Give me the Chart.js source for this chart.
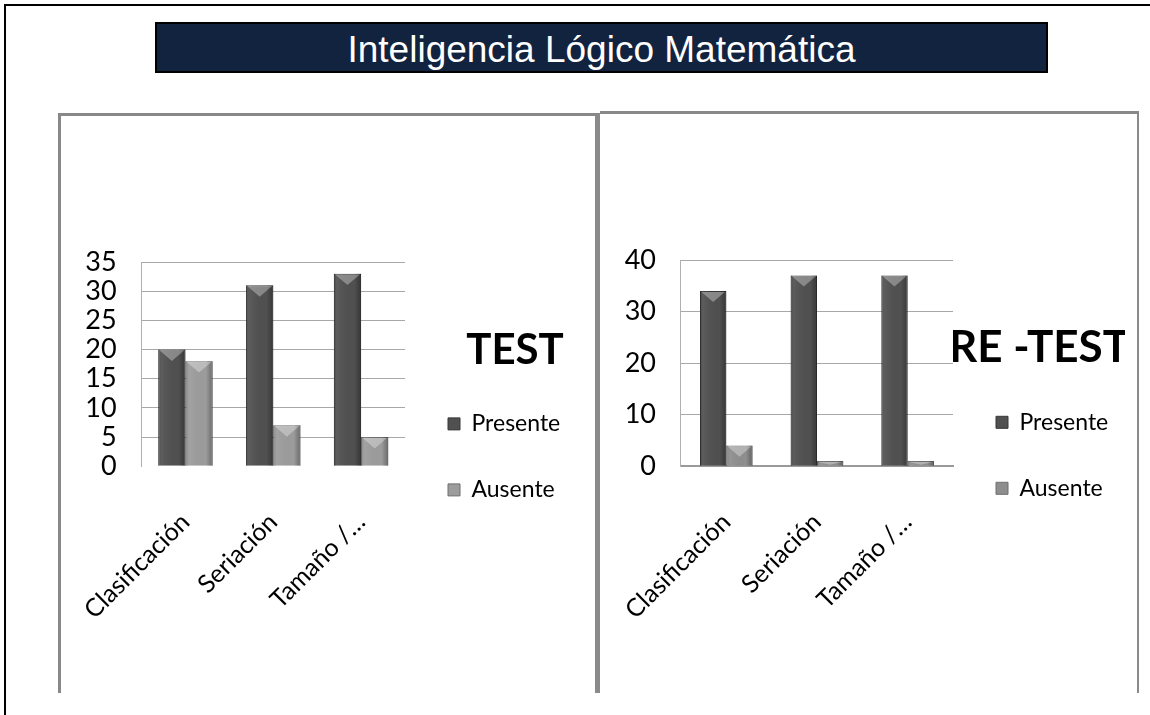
<!DOCTYPE html>
<html>
<head>
<meta charset="utf-8">
<script src="https://cdn.jsdelivr.net/npm/chart.js@4.4.1/dist/chart.umd.min.js"></script>
<style>
body{margin:0;background:#fff;width:1150px;height:715px;overflow:hidden;position:relative;font-family:Lato,sans-serif}
#frame{position:absolute;left:4px;top:4px;width:1150px;height:715px;border-top:2px solid #000;border-left:2px solid #000}
#title{position:absolute;left:155px;top:22px;width:889px;height:47px;background:#12233f;border:2px solid #000;color:#fff;
  font:37px 'Liberation Sans',Arial,sans-serif;text-align:center;line-height:52px}
.panel{position:absolute;border-top:3px solid #888}
#p1{left:58px;top:113px;width:534px;height:577px;border-left:3px solid #888;border-right:5px solid #8a8a8a}
#p2{left:600px;top:111px;width:537px;height:579px;border-right:2px solid #8a8a8a}
canvas{position:absolute;top:0}
#testChart{left:-19px}
#retestChart{left:-17px}
</style>
</head>
<body>
<div id="frame"></div>
<div id="title">Inteligencia Lógico Matemática</div>
<div class="panel" id="p1"><canvas id="testChart" width="599" height="574"></canvas></div>
<div class="panel" id="p2"><canvas id="retestChart" width="554" height="576"></canvas></div>
<script>
// data
var categories = ['Clasificación', 'Seriación', 'Tamaño /…'];
var seriesNames = ['Presente', 'Ausente'];
var testPresente = [20, 31, 33];
var testAusente = [18, 7, 5];
var retestPresente = [34, 37, 37];
var retestAusente = [4, 1, 1];
var testTicks = [0, 5, 10, 15, 20, 25, 30, 35];
var retestTicks = [0, 10, 20, 30, 40];

// little 3d look on the bars (shading + light triangle on top)
var bevel = {
    id: 'bevel',
    afterDatasetsDraw: function (chart) {
        var ctx = chart.ctx;
        chart.data.datasets.forEach(function (ds, i) {
            chart.getDatasetMeta(i).data.forEach(function (bar) {
                var p = bar.getProps(['x', 'y', 'base', 'width'], true);
                var l = p.x - p.width / 2, r = p.x + p.width / 2, h = p.base - p.y;
                if (h <= 0) return;
                var g = ctx.createLinearGradient(l, 0, r, 0);
                g.addColorStop(0, 'rgba(0,0,0,0.28)');
                g.addColorStop(0.15, 'rgba(255,255,255,0.06)');
                g.addColorStop(0.75, 'rgba(0,0,0,0)');
                g.addColorStop(1, 'rgba(0,0,0,0.32)');
                ctx.save();
                ctx.fillStyle = g;
                ctx.fillRect(l, p.y, p.width, h);
                var th = Math.min(p.width * 0.42, h - 1);
                ctx.beginPath();
                ctx.moveTo(l + 1.5, p.y + 1);
                ctx.lineTo(r - 1.5, p.y + 1);
                ctx.lineTo(p.x, p.y + th);
                ctx.closePath();
                ctx.fillStyle = 'rgba(255,255,255,0.32)';
                ctx.fill();
                ctx.restore();
            });
        });
    }
};

function makeChart(id, legendTitle, presente, ausente, tickValues, opts) {
    var max = tickValues[tickValues.length - 1];
    // fixed legend width so the title sits where it does in the picture
    var legendWidth = {
        id: 'legendWidth',
        beforeInit: function (chart) {
            var lg = chart.legend;
            var fit = lg.fit;
            lg.fit = function () {
                fit.call(lg);
                lg.width = opts.legendW;
            };
        }
    };
    return new Chart(document.getElementById(id), {
        type: 'bar',
        data: {
            labels: categories,
            datasets: [
                {label: seriesNames[0], data: presente, backgroundColor: '#505050', borderColor: '#363636', borderWidth: 1,
                    barPercentage: 1, categoryPercentage: opts.catPct},
                {label: seriesNames[1], data: ausente, backgroundColor: opts.ausColor, borderColor: '#6e6e6e', borderWidth: 1,
                    barPercentage: 1, categoryPercentage: opts.catPct}
            ]
        },
        options: {
            responsive: false,
            animation: false,
            layout: {padding: opts.padding},
            plugins: {
                tooltip: {enabled: false},
                legend: {
                    position: 'right',
                    align: 'start',
                    title: {display: true, text: legendTitle, color: '#000',
                        font: {family: 'Lato', size: opts.titleSize, weight: 'bold'}, padding: opts.titlePad},
                    labels: {color: '#000', font: {family: 'Lato', size: 23}, boxWidth: 12, boxHeight: 12, padding: 43}
                }
            },
            scales: {
                x: {
                    grid: {display: false},
                    border: {display: opts.xBorder, color: '#9a9a9a', width: 2},
                    ticks: {color: '#000', font: {family: 'Lato', size: 25}, minRotation: 45, maxRotation: 45, padding: 33}
                },
                y: {
                    min: 0, max: max,
                    afterBuildTicks: function (axis) {
                        axis.ticks = tickValues.map(function (v) { return {value: v}; });
                    },
                    grid: {drawTicks: false, color: function (c) {
                        return (c.tick && c.tick.value === 0 && !opts.xBorder) ? 'rgba(0,0,0,0)' : '#a8a8a8';
                    }},
                    border: {color: '#b0b0b0'},
                    ticks: {autoSkip: false, color: '#000', font: {family: 'Lato', size: 27, lineHeight: 1}, padding: 25}
                }
            }
        },
        plugins: [bevel, legendWidth]
    });
}

makeChart('testChart', 'TEST', testPresente, testAusente, testTicks, {
    catPct: 0.62, ausColor: '#9c9c9c', xBorder: false, legendW: 220, titleSize: 42,
    padding: {top: 146, bottom: 32, left: 2, right: 16},
    titlePad: {top: 67, bottom: -10}
});
makeChart('retestChart', 'RE -TEST', retestPresente, retestAusente, retestTicks, {
    catPct: 0.58, ausColor: '#8e8e8e', xBorder: true, legendW: 172, titleSize: 44,
    padding: {top: 146, bottom: 32, left: 1, right: 12},
    titlePad: {top: 66, bottom: -11}
});
</script>
</body>
</html>
